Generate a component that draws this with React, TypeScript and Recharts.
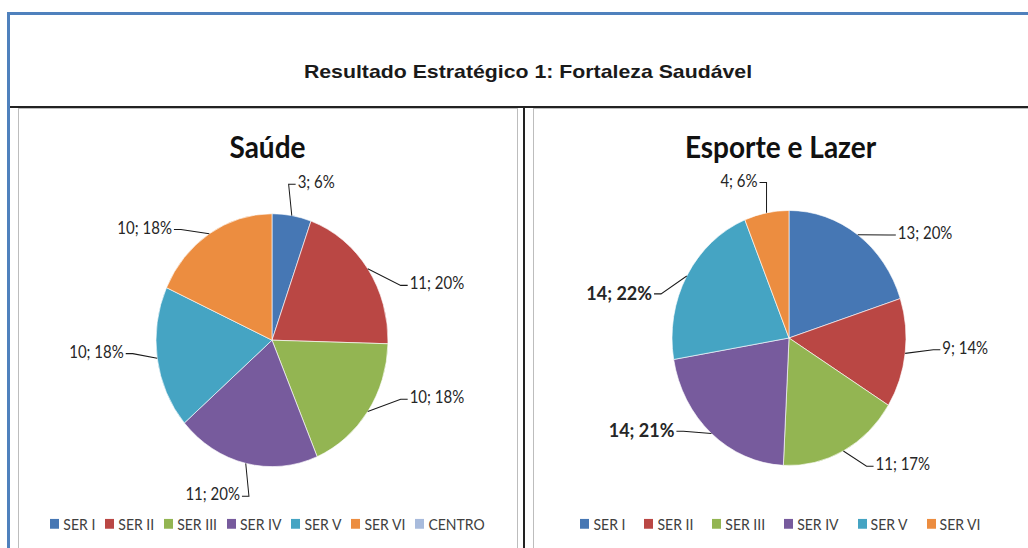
import React from "react";
import { PieChart, Pie, Cell, Legend } from "recharts";

// Saúde
const saudeNames = ["SER I", "SER II", "SER III", "SER IV", "SER V", "SER VI", "CENTRO"];
const saudeValues = [3, 11, 10, 11, 10, 10, 0];
const saudePercents = [6, 20, 18, 20, 18, 18, 0];

// Esporte e Lazer
const esporteNames = ["SER I", "SER II", "SER III", "SER IV", "SER V", "SER VI"];
const esporteValues = [13, 9, 11, 14, 14, 4];
const esportePercents = [20, 14, 17, 21, 22, 6];

const COLORS = ["#4677b4", "#ba4744", "#93b552", "#775b9d", "#45a4c3", "#ec8d40", "#a8bbdc"];
const FONT = "Lato, 'Open Sans', sans-serif";
const RAD = Math.PI / 180;
// the source image is stretched vertically
const STRETCH = 1.09;

const makeLabel = (names: string[], percents: number[], boldNames: string[]) => (props: any) => {
    const { cx, cy, midAngle, outerRadius, value, index } = props;
    if (!value) return null;
    const theta = 90 - midAngle; // clockwise from 12 o'clock
    // Excel "best fit" pushes labels a bit toward the sides
    const t = theta + 15 * Math.sin(2 * theta * RAD);
    const ex = cx + outerRadius * Math.sin(theta * RAD);
    const ey = cy - outerRadius * Math.cos(theta * RAD);
    const tx = cx + (outerRadius + 60) * Math.sin(t * RAD);
    const ty = cy - (outerRadius + 34) * Math.cos(t * RAD);
    const right = Math.sin(t * RAD) >= 0;
    const bold = boldNames.includes(names[index]);
    const text = `${value}; ${percents[index]}%`;
    const half = text.length * (bold ? 4.7 : 3.9);
    const nx = right ? tx - half : tx + half;
    const s = right ? -1 : 1;
    return (
        <g>
            <polyline
                points={`${ex},${ey} ${nx + s * 9},${ty + 2} ${nx + s * 2},${ty + 2}`}
                fill="none" stroke="#1a1a1a" strokeWidth={1}
            />
            <text x={nx} y={ty} textAnchor={right ? "start" : "end"} dominantBaseline="central"
                  fontFamily={FONT} fontSize={bold ? 18 : 15} fontWeight={bold ? 700 : 400} fill="#262626">
                {text}
            </text>
        </g>
    );
};

// legend keeps the data order (SER I ... CENTRO)
const makeLegend = (names: string[], gap: number) => () => (
    <div style={{ display: "flex", justifyContent: "center", gap, fontFamily: FONT, fontSize: 14, color: "#404040" }}>
        {names.map((n, i) => (
            <span key={n} style={{ display: "flex", alignItems: "center" }}>
                <span style={{ width: 9, height: 9, background: COLORS[i], marginRight: 4, display: "inline-block" }} />
                {n}
            </span>
        ))}
    </div>
);

interface BlockProps {
    left: number; width: number; title: string;
    names: string[]; values: number[]; percents: number[];
    boldNames: string[]; gap: number; cx: number; cy: number; r: number;
}

const PieBlock: React.FC<BlockProps> = ({ left, width, title, names, values, percents, boldNames, gap, cx, cy, r }) => {
    const data = names.map((name, i) => ({ name, value: values[i] }));
    const height = 404;
    return (
        <div style={{ position: "absolute", left, top: 108, width, height, transform: `scaleY(${STRETCH})`, transformOrigin: "top left" }}>
            <div style={{ position: "absolute", left: 0, top: 18, width, textAlign: "center", fontFamily: FONT,
                          fontWeight: 700, fontSize: 28, lineHeight: "34px", color: "#111" }}>
                {title}
            </div>
            <PieChart width={width} height={height}>
                <Pie data={data} dataKey="value" nameKey="name" cx={cx} cy={cy} outerRadius={r}
                     startAngle={90} endAngle={-270} stroke="#ffffff" strokeWidth={0.6}
                     label={makeLabel(names, percents, boldNames)} labelLine={false} isAnimationActive={false}>
                    {data.map((d, i) => <Cell key={d.name} fill={COLORS[i]} />)}
                </Pie>
                <Legend verticalAlign="bottom" content={makeLegend(names, gap)} wrapperStyle={{ bottom: 14, left: 0, width }} />
            </PieChart>
        </div>
    );
};

export default function App() {
    return (
        <div style={{ position: "fixed", left: 0, top: 0, width: 1028, height: 548, overflow: "hidden", background: "#fff" }}>
            {/* outer blue frame */}
            <div style={{ position: "absolute", left: 7, top: 12, width: 1100, height: 600,
                          borderLeft: "3px solid #4f81bd", borderTop: "3px solid #4f81bd" }} />
            <div style={{ position: "absolute", left: 0, top: 61, width: 1056, textAlign: "center",
                          fontFamily: "'Liberation Sans', Arial, sans-serif", fontWeight: 700, fontSize: 19,
                          color: "#1a1a1a", transform: "scaleX(1.12)", transformOrigin: "528px 0" }}>
                Resultado Estratégico 1: Fortaleza Saudável
            </div>
            <div style={{ position: "absolute", left: 10, top: 106, width: 1030, height: 2, background: "#222" }} />
            {/* panels */}
            <div style={{ position: "absolute", left: 18, top: 108, width: 498, height: 460, border: "1px solid #bdbdbd" }} />
            <div style={{ position: "absolute", left: 523, top: 108, width: 1.5, height: 460, background: "#222" }} />
            <div style={{ position: "absolute", left: 533, top: 108, width: 520, height: 460, border: "1px solid #bdbdbd" }} />
            <PieBlock left={18} width={499} title="Saúde" names={saudeNames} values={saudeValues}
                      percents={saudePercents} boldNames={[]} gap={10} cx={249} cy={208} r={116} />
            <PieBlock left={533} width={495} title="Esporte e Lazer" names={esporteNames} values={esporteValues}
                      percents={esportePercents} boldNames={["SER IV", "SER V"]} gap={19} cx={251} cy={206} r={117} />
        </div>
    );
}
